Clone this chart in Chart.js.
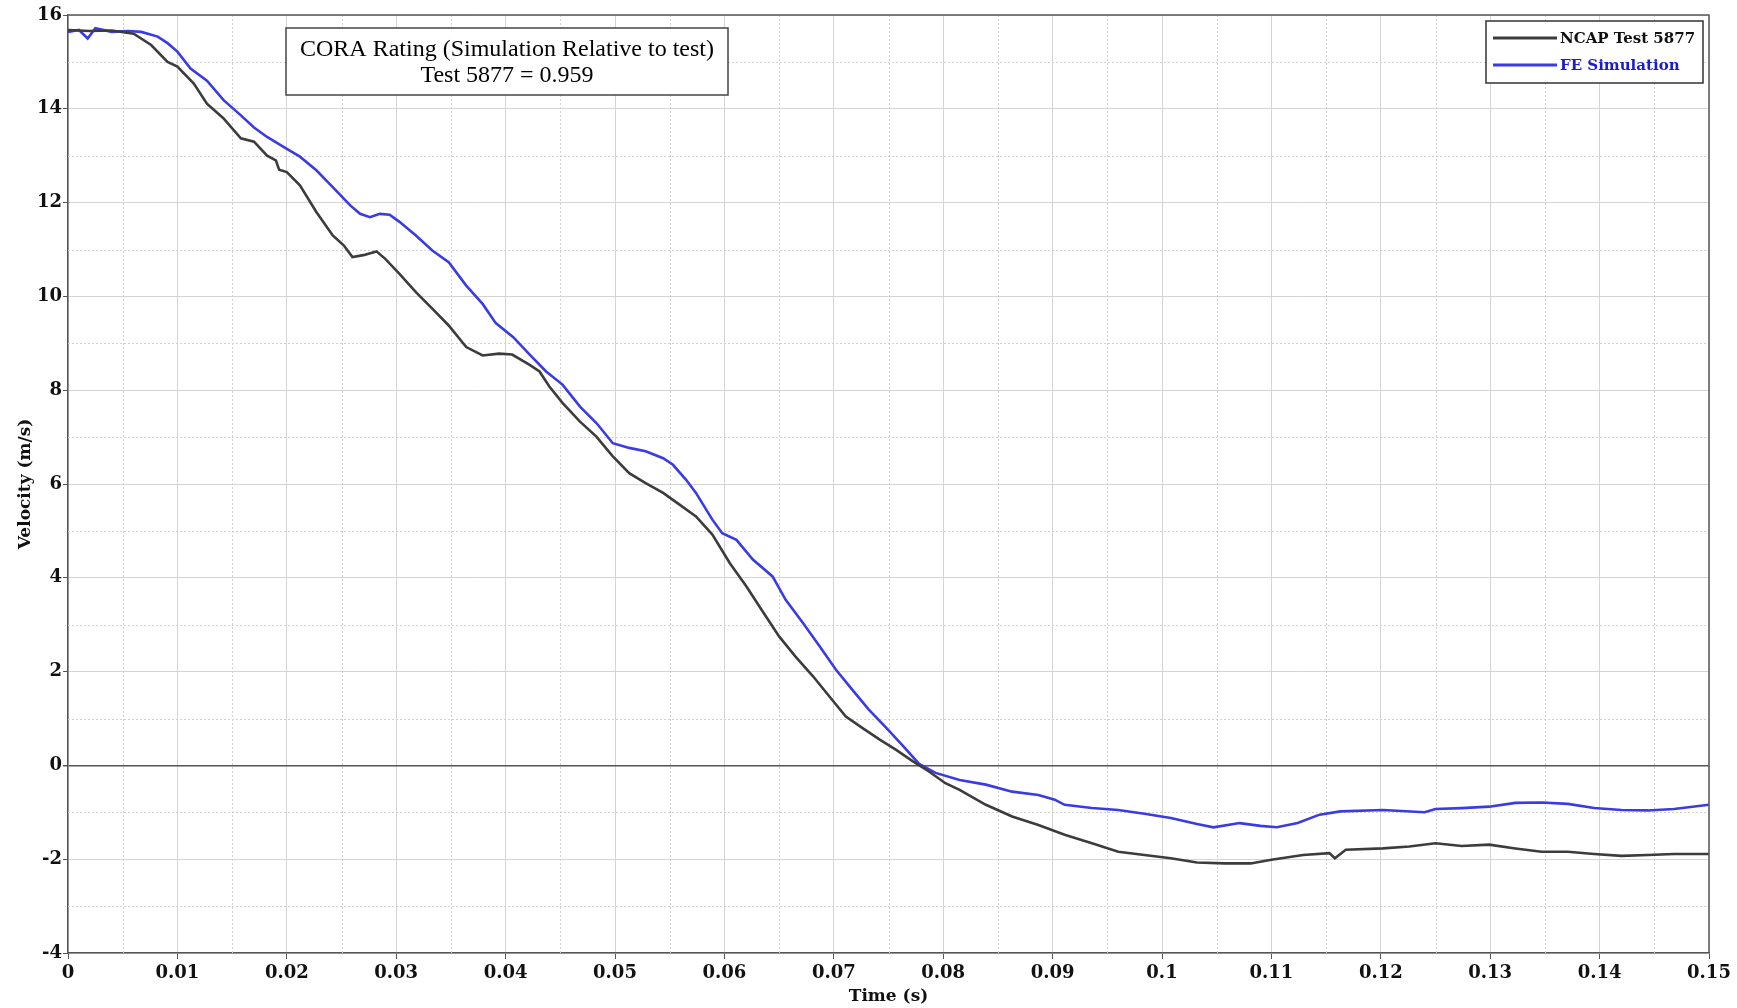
<!DOCTYPE html>
<html>
<head>
<meta charset="utf-8">
<script src="https://cdn.jsdelivr.net/npm/chart.js@4.4.1/dist/chart.umd.min.js"></script>
<style>
    html, body { margin: 0; padding: 0; background: #fff; }
    #wrap { width: 1737px; height: 1008px; }
</style>
</head>
<body>
<div id="wrap"><canvas id="velocityChart" width="1737" height="1008"></canvas></div>
<script>
// values
const ncapTime = [0, 0.002, 0.004, 0.006, 0.0076, 0.0091, 0.01, 0.0115, 0.0127, 0.0142, 0.0158, 0.017, 0.0182, 0.019, 0.0193, 0.02,
    0.0212, 0.0227, 0.0242, 0.0252, 0.026, 0.027, 0.0282, 0.029, 0.0303, 0.0318, 0.0333, 0.0348, 0.0364, 0.0379, 0.0394, 0.0406,
    0.0422, 0.0431, 0.044, 0.0452, 0.0468, 0.0483, 0.0498, 0.0513, 0.0528, 0.0544, 0.0559, 0.0574, 0.0589, 0.0605, 0.062, 0.0635,
    0.065, 0.0665, 0.0681, 0.0696, 0.0711, 0.0726, 0.0742, 0.0757, 0.0772, 0.0787, 0.0802, 0.0815, 0.0839, 0.0863, 0.0887, 0.0911,
    0.0936, 0.096, 0.0984, 0.1008, 0.1032, 0.1057, 0.1081, 0.11, 0.1129, 0.1153, 0.1158, 0.1168, 0.1202, 0.1226, 0.125, 0.1274,
    0.1299, 0.1323, 0.1347, 0.1371, 0.1395, 0.142, 0.1444, 0.1468, 0.15];
const ncapVelocity = [15.68, 15.66, 15.67, 15.6, 15.36, 15.0, 14.9, 14.54, 14.11, 13.8, 13.37, 13.3, 13.0, 12.9, 12.7, 12.65,
    12.37, 11.8, 11.3, 11.09, 10.84, 10.88, 10.96, 10.8, 10.48, 10.09, 9.74, 9.38, 8.92, 8.74, 8.78, 8.76,
    8.54, 8.4, 8.08, 7.73, 7.33, 7.01, 6.59, 6.23, 6.02, 5.81, 5.56, 5.31, 4.92, 4.31, 3.82, 3.28,
    2.75, 2.32, 1.9, 1.47, 1.04, 0.8, 0.55, 0.33, 0.09, -0.13, -0.38, -0.52, -0.84, -1.09, -1.27, -1.48,
    -1.66, -1.84, -1.91, -1.98, -2.07, -2.09, -2.09, -2.01, -1.91, -1.87, -1.98, -1.8, -1.77, -1.73, -1.66, -1.72,
    -1.69, -1.77, -1.84, -1.84, -1.89, -1.93, -1.91, -1.89, -1.89];

const simTime = [0, 0.001, 0.0018, 0.0025, 0.004, 0.0055, 0.0067, 0.0082, 0.0091, 0.01, 0.0112, 0.0127, 0.0142, 0.0158, 0.017,
    0.0182, 0.0197, 0.0212, 0.0227, 0.0242, 0.0258, 0.0267, 0.0276, 0.0285, 0.0294, 0.0303, 0.0318, 0.0333, 0.0348, 0.0364,
    0.0379, 0.0391, 0.0407, 0.0422, 0.0437, 0.0452, 0.0468, 0.0483, 0.0498, 0.0513, 0.0528, 0.0544, 0.0553, 0.0565, 0.0574,
    0.0589, 0.0598, 0.0611, 0.0626, 0.0644, 0.0656, 0.0672, 0.0687, 0.0702, 0.0717, 0.0732, 0.0748, 0.0763, 0.0778, 0.0793,
    0.0815, 0.0839, 0.0863, 0.0887, 0.0902, 0.0911, 0.0936, 0.096, 0.0984, 0.1008, 0.1032, 0.1047, 0.1071, 0.109, 0.1105,
    0.1124, 0.1144, 0.1163, 0.1202, 0.124, 0.125, 0.1274, 0.1299, 0.1323, 0.1347, 0.1371, 0.1395, 0.142, 0.1444, 0.1468, 0.15];
const simVelocity = [15.64, 15.68, 15.5, 15.72, 15.64, 15.66, 15.64, 15.54, 15.4, 15.22, 14.86, 14.6, 14.19, 13.86, 13.6,
    13.4, 13.19, 12.98, 12.69, 12.33, 11.94, 11.76, 11.69, 11.76, 11.74, 11.59, 11.3, 10.98, 10.73, 10.23,
    9.84, 9.43, 9.13, 8.76, 8.4, 8.12, 7.65, 7.3, 6.87, 6.77, 6.7, 6.55, 6.41, 6.09, 5.81,
    5.24, 4.95, 4.81, 4.39, 4.03, 3.53, 3.03, 2.54, 2.04, 1.61, 1.19, 0.8, 0.42, 0.03, -0.16,
    -0.31, -0.41, -0.56, -0.63, -0.73, -0.84, -0.91, -0.95, -1.03, -1.12, -1.25, -1.32, -1.23, -1.29, -1.32,
    -1.23, -1.05, -0.98, -0.95, -1.0, -0.93, -0.91, -0.88, -0.8, -0.79, -0.82, -0.91, -0.95, -0.96, -0.93, -0.84];

const seriesLabels = ['NCAP Test 5877', 'FE Simulation'];
const seriesColors = ['#3c3c3c', '#3b3be6'];
const xMinorTicks = [0.005, 0.015, 0.025, 0.035, 0.045, 0.055, 0.065, 0.075, 0.085, 0.095, 0.105, 0.115, 0.125, 0.135, 0.145];
const yMinorTicks = [-3, -1, 1, 3, 5, 7, 9, 11, 13, 15];
const coraLines = ['CORA Rating (Simulation Relative to test)', 'Test 5877 = 0.959'];

const tickFont = { family: 'DejaVu Serif', weight: 'bold', size: 18 };

const plotDecor = {
    id: 'plotDecor',
    beforeDatasetsDraw(chart) {
        const { ctx, chartArea: a, scales: { x, y } } = chart;
        ctx.save();
        ctx.strokeStyle = '#d2d2d2';
        ctx.lineWidth = 1;
        ctx.setLineDash([2, 2]);
        xMinorTicks.forEach(t => {
            const px = Math.round(x.getPixelForValue(t)) + 0.5;
            ctx.beginPath(); ctx.moveTo(px, a.top); ctx.lineTo(px, a.bottom); ctx.stroke();
        });
        yMinorTicks.forEach(v => {
            const py = Math.round(y.getPixelForValue(v)) + 0.5;
            ctx.beginPath(); ctx.moveTo(a.left, py); ctx.lineTo(a.right, py); ctx.stroke();
        });
        ctx.restore();
    },
    afterDraw(chart) {
        const { ctx, chartArea: a } = chart;
        ctx.save();
        // frame on top and right
        ctx.strokeStyle = '#5a5a5a';
        ctx.lineWidth = 1.5;
        ctx.beginPath();
        ctx.moveTo(a.left, a.top); ctx.lineTo(a.right, a.top); ctx.lineTo(a.right, a.bottom);
        ctx.stroke();

        // CORA box
        ctx.fillStyle = '#fff';
        ctx.fillRect(286, 28, 442, 67);
        ctx.strokeStyle = '#444';
        ctx.strokeRect(286, 28, 442, 67);
        ctx.fillStyle = '#000';
        ctx.font = '24px "Liberation Serif"';
        ctx.textAlign = 'center';
        ctx.textBaseline = 'middle';
        ctx.fillText(coraLines[0], 507, 50);
        ctx.fillText(coraLines[1], 507, 76);

        // legend
        ctx.fillStyle = '#fff';
        ctx.fillRect(1486, 21, 217, 62);
        ctx.strokeStyle = '#333';
        ctx.strokeRect(1486, 21, 217, 62);
        ctx.font = 'bold 15px "DejaVu Serif"';
        ctx.textAlign = 'left';
        chart.data.datasets.forEach((ds, i) => {
            const rowY = 38 + i * 27;
            ctx.strokeStyle = ds.borderColor;
            ctx.lineWidth = 3;
            ctx.beginPath(); ctx.moveTo(1493, rowY); ctx.lineTo(1557, rowY); ctx.stroke();
            ctx.fillStyle = i === 0 ? '#111' : '#1c1cc8';
            ctx.fillText(ds.label, 1560, rowY + 1);
        });
        ctx.restore();
    }
};

const ctx = document.getElementById('velocityChart').getContext('2d');
new Chart(ctx, {
    type: 'line',
    data: {
        datasets: [
            {
                label: seriesLabels[0],
                data: ncapTime.map((t, i) => ({ x: t, y: ncapVelocity[i] })),
                borderColor: seriesColors[0],
                borderWidth: 2.6,
                pointRadius: 0,
                tension: 0
            },
            {
                label: seriesLabels[1],
                data: simTime.map((t, i) => ({ x: t, y: simVelocity[i] })),
                borderColor: seriesColors[1],
                borderWidth: 2.6,
                pointRadius: 0,
                tension: 0
            }
        ]
    },
    options: {
        responsive: false,
        animation: false,
        devicePixelRatio: 1,
        layout: { padding: { top: 15, right: 28, left: 0, bottom: 0 } },
        plugins: {
            legend: { display: false },
            tooltip: { enabled: false }
        },
        scales: {
            x: {
                type: 'linear',
                min: 0,
                max: 0.15,
                afterFit: s => { s.height = 55; },
                ticks: {
                    stepSize: 0.01,
                    color: '#111',
                    font: tickFont,
                    padding: 4,
                    maxRotation: 0,
                    autoSkip: false,
                    callback: v => String(Number(v.toFixed(3)))
                },
                grid: { color: '#d4d4d4', lineWidth: 1, tickLength: 6, tickColor: '#555' },
                border: { color: '#555', width: 1.5 },
                title: {
                    display: true,
                    text: 'Time (s)',
                    color: '#111',
                    font: { family: 'DejaVu Serif', weight: 'bold', size: 17 },
                    padding: { top: 0, bottom: 1 }
                }
            },
            y: {
                min: -4,
                max: 16,
                afterFit: s => { s.width = 68; },
                ticks: {
                    stepSize: 2,
                    color: '#111',
                    font: tickFont,
                    padding: 1
                },
                grid: {
                    color: c => c.tick && c.tick.value === 0 ? '#555' : '#d4d4d4',
                    lineWidth: c => c.tick && c.tick.value === 0 ? 1.5 : 1,
                    tickLength: 5,
                    tickColor: '#555'
                },
                border: { color: '#555', width: 1.5 },
                title: {
                    display: true,
                    text: 'Velocity (m/s)',
                    color: '#111',
                    font: { family: 'DejaVu Serif', weight: 'bold', size: 17 },
                    padding: { top: 15, bottom: 0 }
                }
            }
        }
    },
    plugins: [plotDecor]
});
</script>
</body>
</html>
